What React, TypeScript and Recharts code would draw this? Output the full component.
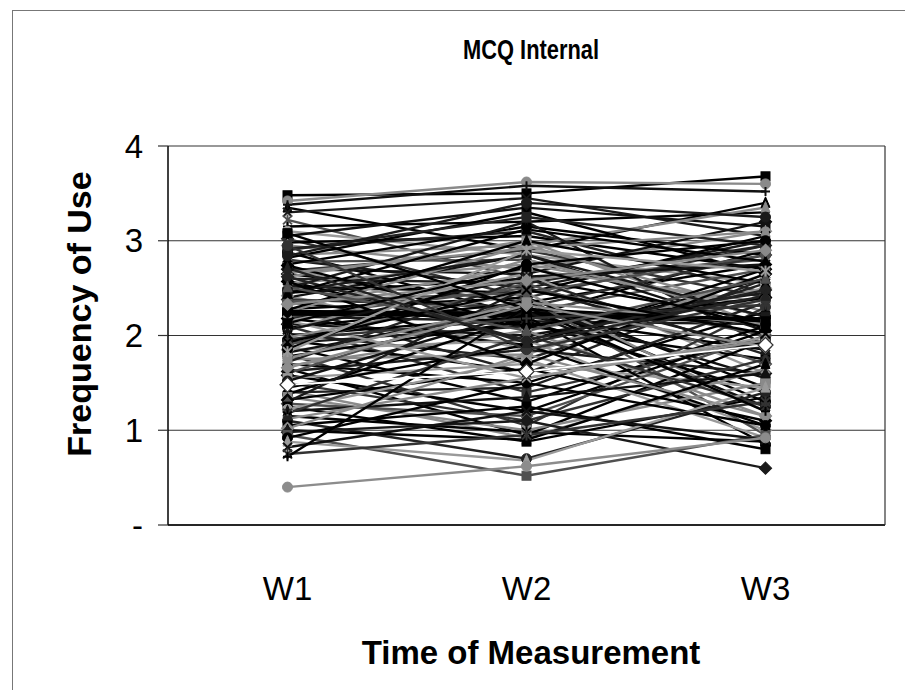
import React from 'react';
import { LineChart, Line, XAxis, YAxis, CartesianGrid } from 'recharts';

const categories = ['W1', 'W2', 'W3'];

const w1Values = [
  3.48, 3.42, 3.35, 3.30, 3.22, 3.15, 3.10, 3.05, 3.02, 2.98,
  2.95, 2.92, 2.88, 2.85, 2.82, 2.80, 2.78, 2.75, 2.72, 2.70,
  2.68, 2.65, 2.62, 2.60, 2.58, 2.55, 2.52, 2.50, 2.48, 2.45,
  2.42, 2.40, 2.38, 2.35, 2.32, 2.30, 2.28, 2.25, 2.22, 2.20,
  2.20, 2.18, 2.15, 2.12, 2.10, 2.08, 2.05, 2.02, 2.00, 1.98,
  1.95, 1.92, 1.90, 1.88, 1.85, 1.82, 1.80, 1.78, 1.75, 1.72,
  1.70, 1.68, 1.65, 1.62, 1.60, 1.58, 1.55, 1.52, 1.50, 1.45,
  1.42, 1.40, 1.38, 1.35, 1.32, 1.30, 1.28, 1.25, 1.22, 1.20,
  1.18, 1.15, 1.12, 1.10, 1.05, 1.02, 1.00, 0.98, 0.95, 0.92,
  0.88, 0.82, 0.75, 0.72, 0.40, 2.90, 2.74, 2.66, 2.57, 2.46,
  2.36, 2.27, 2.16, 2.06, 1.96, 1.86, 1.76, 2.62, 2.44, 2.33,
  3.08, 2.84, 2.51, 1.93, 1.83, 3.38, 2.95, 2.13, 1.66, 2.71,
];

const w2Values = [
  3.50, 3.62, 2.90, 3.45, 2.60, 3.20, 2.85, 3.35, 2.40, 3.05,
  2.70, 3.10, 2.20, 2.95, 3.30, 2.50, 2.80, 3.15, 2.05, 2.65,
  2.90, 2.35, 3.00, 2.55, 1.95, 2.75, 2.45, 3.20, 2.25, 2.60,
  1.85, 2.85, 2.30, 2.10, 2.70, 1.60, 2.40, 2.95, 2.22, 2.15,
  2.50, 1.90, 2.65, 2.00, 1.40, 2.35, 2.80, 1.75, 2.20, 2.45,
  1.62, 2.10, 2.55, 1.30, 1.95, 2.30, 1.05, 2.15, 1.80, 2.60,
  1.50, 2.05, 0.95, 1.85, 2.40, 1.20, 1.70, 2.25, 1.10, 1.90,
  0.92, 1.45, 2.20, 1.00, 1.65, 2.50, 1.15, 0.88, 1.75, 1.35,
  2.00, 0.98, 1.55, 0.70, 1.25, 1.80, 0.90, 1.10, 0.52, 1.50,
  0.68, 1.20, 0.95, 2.30, 0.62, 3.25, 2.10, 2.92, 1.70, 2.85,
  2.45, 3.00, 1.55, 2.62, 2.18, 2.75, 2.35, 1.95, 3.12, 2.58,
  2.28, 3.40, 2.05, 2.48, 2.90, 3.58, 1.85, 2.72, 2.32, 1.92,
];

const w3Values = [
  3.68, 3.60, 3.40, 3.05, 2.80, 3.30, 2.55, 3.15, 2.95, 2.70,
  3.10, 2.45, 2.90, 3.35, 2.65, 3.00, 2.20, 2.85, 2.50, 3.20,
  2.40, 2.75, 2.10, 2.95, 2.60, 2.30, 3.05, 1.90, 2.70, 2.15,
  2.50, 2.05, 2.85, 1.75, 2.35, 2.60, 1.45, 2.25, 2.18, 2.12,
  2.00, 2.70, 1.60, 2.40, 1.95, 1.30, 2.20, 2.55, 1.85, 1.20,
  1.90, 2.45, 1.70, 2.10, 1.00, 1.55, 2.30, 1.40, 2.65, 1.80,
  2.25, 1.15, 1.95, 1.60, 0.95, 2.05, 1.45, 1.25, 1.75, 1.05,
  1.65, 2.35, 0.85, 1.50, 1.10, 1.85, 2.00, 1.35, 0.92, 1.60,
  1.25, 0.88, 1.95, 1.40, 0.80, 1.15, 1.70, 0.60, 0.95, 1.05,
  1.45, 0.90, 1.30, 1.20, 0.92, 2.95, 2.40, 3.10, 2.65, 2.20,
  2.85, 2.55, 1.98, 2.75, 2.32, 3.00, 2.12, 2.48, 2.78, 2.90,
  2.15, 3.25, 2.60, 2.02, 2.68, 3.52, 2.38, 2.08, 1.88, 2.42,
];

const meanValues = [2.24, 2.22, 2.16];
const highlightValues = [1.48, 1.62, 1.9];

const yTicks = [0, 1, 2, 3, 4];
const yTickLabels = ['-', '1', '2', '3', '4'];

const waves = [w1Values, w2Values, w3Values];
const data = categories.map((c, ci) => {
  const row: Record<string, number | string> = {
    pos: ci + 1,
    mean: meanValues[ci],
    highlight: highlightValues[ci],
  };
  waves[ci].forEach((v, si) => {
    row[`s${si}`] = v;
  });
  return row;
});

const palette = ['#000000', '#8a8a8a', '#000000', '#1a1a1a', '#505050', '#000000', '#9a9a9a', '#111111', '#333333', '#000000', '#8c8c8c', '#222222'];
const shapes = ['square', 'circle', 'triangle', 'x', 'star', 'plus', 'circle', 'square', 'diamond', 'triangle', 'diamond'];

const FONT = 'Arial, "Liberation Sans", Helvetica, sans-serif';

const makeDot = (shape: string, color: string, size = 4.5, stroke?: string) => (props: any) => {
  const { cx, cy, index } = props;
  const k = `dot-${index}`;
  if (cx == null || cy == null) return <g key={k} />;
  const r = size;
  const st = stroke || color;
  switch (shape) {
    case 'circle':
      return <circle key={k} cx={cx} cy={cy} r={r + 0.5} fill={color} stroke={st} />;
    case 'square':
      return <rect key={k} x={cx - r} y={cy - r} width={2 * r} height={2 * r} fill={color} stroke={st} />;
    case 'triangle':
      return <polygon key={k} points={`${cx},${cy - r - 1.5} ${cx + r},${cy + r} ${cx - r},${cy + r}`} fill={color} stroke={st} />;
    case 'diamond':
      return <polygon key={k} points={`${cx},${cy - r - 1.5} ${cx + r + 1.5},${cy} ${cx},${cy + r + 1.5} ${cx - r - 1.5},${cy}`} fill={color} stroke={st} strokeWidth={1.2} />;
    case 'x':
      return (
        <g key={k} stroke={color} strokeWidth={2}>
          <line x1={cx - r} y1={cy - r} x2={cx + r} y2={cy + r} />
          <line x1={cx - r} y1={cy + r} x2={cx + r} y2={cy - r} />
        </g>
      );
    case 'star':
      return (
        <g key={k} stroke={color} strokeWidth={2}>
          <line x1={cx - r} y1={cy - r} x2={cx + r} y2={cy + r} />
          <line x1={cx - r} y1={cy + r} x2={cx + r} y2={cy - r} />
          <line x1={cx} y1={cy - r - 1} x2={cx} y2={cy + r + 1} />
        </g>
      );
    default:
      return (
        <g key={k} stroke={color} strokeWidth={2}>
          <line x1={cx - r} y1={cy} x2={cx + r} y2={cy} />
          <line x1={cx} y1={cy - r} x2={cx} y2={cy + r} />
        </g>
      );
  }
};

const seriesIdx = w1Values.map((_, i) => i);
const half = Math.floor(seriesIdx.length / 2);

const renderSeries = (i: number) => {
  const color = palette[i % palette.length];
  const shape = shapes[i % shapes.length];
  return (
    <Line
      key={`s${i}`}
      xAxisId="main"
      type="linear"
      dataKey={`s${i}`}
      stroke={color}
      strokeWidth={2.4}
      dot={makeDot(shape, color)}
      activeDot={false}
      isAnimationActive={false}
    />
  );
};

export default function App() {
  return (
    <div style={{ position: 'absolute', left: 0, top: 0, width: 905, height: 690, overflow: 'hidden', background: '#fff' }}>
      <div style={{ position: 'absolute', left: 12, top: 10, width: 900, height: 700, borderLeft: '1px solid #777', borderTop: '1px solid #777' }} />
      <div style={{ position: 'absolute', left: 0, top: 0 }}>
        <LineChart width={905} height={690} data={data} margin={{ top: 146, right: 10, left: 0, bottom: 0 }}>
          <CartesianGrid vertical={false} stroke="#333" strokeWidth={1.2} />
          <XAxis
            xAxisId="bounds"
            type="number"
            dataKey="pos"
            domain={[0.5, 3.5]}
            ticks={[0.5, 1.5, 2.5, 3.5]}
            interval={0}
            tick={false}
            tickSize={10}
            axisLine={false}
            tickLine={{ stroke: '#000', strokeWidth: 1.2 }}
            height={0}
          />
          <XAxis
            xAxisId="main"
            type="number"
            dataKey="pos"
            domain={[0.5, 3.5]}
            ticks={[1, 2, 3]}
            interval={0}
            tickFormatter={(v: number) => categories[v - 1]}
            tickLine={false}
            tickSize={0}
            tickMargin={52}
            axisLine={{ stroke: '#000', strokeWidth: 1.5 }}
            tick={{ fontSize: 33, fill: '#000', fontFamily: FONT }}
            height={165}
          />
          <YAxis
            type="number"
            domain={[0, 4]}
            ticks={yTicks}
            interval={0}
            tickFormatter={(v: number) => yTickLabels[yTicks.indexOf(v)]}
            width={168}
            tickSize={10}
            tickMargin={15}
            axisLine={{ stroke: '#000', strokeWidth: 1.5 }}
            tickLine={{ stroke: '#333', strokeWidth: 1.2 }}
            tick={{ fontSize: 33, fill: '#000', fontFamily: FONT }}
          />
          <YAxis
            yAxisId="right"
            orientation="right"
            type="number"
            domain={[0, 4]}
            tick={false}
            tickLine={false}
            width={10}
            axisLine={{ stroke: '#333', strokeWidth: 1.2 }}
          />
          {seriesIdx.slice(0, half).map(renderSeries)}
          <Line
            xAxisId="main"
            type="linear"
            dataKey="mean"
            stroke="#000"
            strokeWidth={6}
            dot={makeDot('square', '#000', 5)}
            activeDot={false}
            isAnimationActive={false}
          />
          {seriesIdx.slice(half).map(renderSeries)}
          <Line
            xAxisId="main"
            type="linear"
            dataKey="highlight"
            stroke="#ffffff"
            strokeWidth={1.8}
            dot={makeDot('diamond', '#ffffff', 6, '#333')}
            activeDot={false}
            isAnimationActive={false}
          />
        </LineChart>
      </div>
      <div style={{ position: 'absolute', left: 331, top: 34, width: 400, textAlign: 'center', fontFamily: FONT, fontWeight: 'bold', fontSize: 28, lineHeight: '32px', color: '#000', transform: 'scaleX(0.78)', whiteSpace: 'nowrap' }}>
        MCQ Internal
      </div>
      <div style={{ position: 'absolute', left: 79 - 200, top: 314 - 20, width: 400, height: 40, lineHeight: '40px', textAlign: 'center', transform: 'rotate(-90deg)', fontFamily: FONT, fontWeight: 'bold', fontSize: 34, color: '#000', whiteSpace: 'nowrap' }}>
        Frequency of Use
      </div>
      <div style={{ position: 'absolute', left: 331, top: 633, width: 400, height: 40, lineHeight: '40px', textAlign: 'center', fontFamily: FONT, fontWeight: 'bold', fontSize: 33, color: '#000', whiteSpace: 'nowrap' }}>
        Time of Measurement
      </div>
    </div>
  );
}
